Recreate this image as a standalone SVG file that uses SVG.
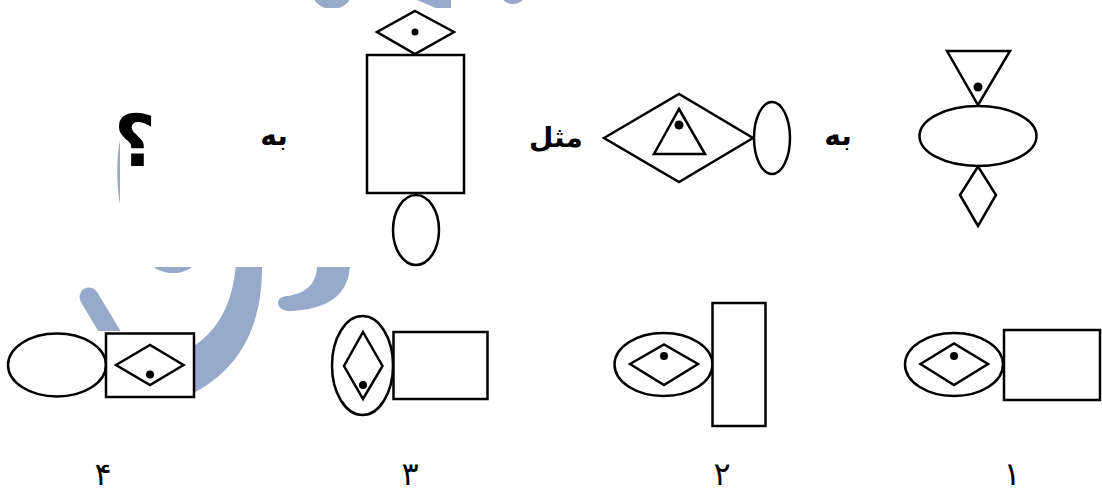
<svg xmlns="http://www.w3.org/2000/svg" width="1102" height="493" viewBox="0 0 1102 493">
<style>
.s{fill:#fff;stroke:#000;stroke-width:2.5;stroke-linejoin:miter}
.d{fill:#000}
.w{fill:#97aacb}
.bg{fill:#fff}
.t{font-family:"DejaVu Sans",sans-serif;font-weight:bold;font-size:28px;fill:#000}
.n{font-family:"DejaVu Sans",sans-serif;font-size:32px;fill:#000}
</style>
<g id="watermark">
<ellipse class="w" cx="332" cy="-8" rx="20" ry="17"/>
<path class="w" d="M417,0 L451,0 L451,9 L438,9 Z"/>
<ellipse class="w" cx="513" cy="-4" rx="11" ry="8"/>
<path class="w" d="M121,137 C116,152 116,190 121,208 Z"/>
<ellipse class="w" cx="173" cy="262" rx="21" ry="11"/>
<path class="w" d="M236,262 L262,262 C263,320 245,365 194,393 L170,395 L170,360 C200,345 232,325 236,262 Z"/>
<path d="M89,297 L122,352" stroke="#97aacb" stroke-width="19" stroke-linecap="round" fill="none"/>
<path class="w" d="M317,262 L350,262 C350,290 335,308 293,311 C284,312 278,308 278,303 C278,298 283,296 288,296 C305,293 318,285 317,262 Z"/>
<rect class="bg" x="120" y="8" width="920" height="259"/>
<rect class="bg" x="0" y="331" width="194" height="67"/>
</g>
<g id="q1">
<polygon class="s" points="947,51 1010,51 978,105"/>
<circle class="d" cx="978" cy="87" r="4.5"/>
<ellipse class="s" cx="978" cy="136" rx="58.5" ry="30"/>
<polygon class="s" points="978,166.5 996,195 978,226 960,195"/>
</g>
<g id="q2">
<polygon class="s" points="604,138 679,94 753,138 679,182"/>
<polygon class="s" points="679,109 705,154 654,154"/>
<circle class="d" cx="679" cy="125" r="4.5"/>
<ellipse class="s" cx="772" cy="138" rx="18" ry="36"/>
</g>
<g id="q3">
<polygon class="s" points="415,11 454,32 415,54 377,32"/>
<circle class="d" cx="415" cy="32" r="3.5"/>
<rect class="s" x="367" y="55" width="97" height="138"/>
<ellipse class="s" cx="416" cy="230" rx="23" ry="35"/>
</g>
<g id="labels">
<text class="t" x="135" y="166" text-anchor="middle" style="font-size:72px">؟</text>
<text class="t" x="274" y="145" text-anchor="middle">به</text>
<text class="t" x="556" y="147" text-anchor="middle">مثل</text>
<text class="t" x="838" y="145" text-anchor="middle">به</text>
</g>
<g id="opt1">
<ellipse class="s" cx="954" cy="364.5" rx="49" ry="31.5"/>
<polygon class="s" points="920.5,364 954,343.5 988,364 954,385"/>
<circle class="d" cx="954" cy="356" r="4"/>
<rect class="s" x="1004" y="330" width="96" height="70"/>
<text class="n" x="1012" y="485" text-anchor="middle">۱</text>
</g>
<g id="opt2">
<ellipse class="s" cx="663.5" cy="364.5" rx="49" ry="31.5"/>
<polygon class="s" points="630,364 664,344.5 698,364 664,385"/>
<circle class="d" cx="664" cy="356" r="4"/>
<rect class="s" x="712.5" y="303" width="53" height="123"/>
<text class="n" x="722" y="485" text-anchor="middle">۲</text>
</g>
<g id="opt3">
<ellipse class="s" cx="362.5" cy="365.5" rx="30.5" ry="49.5"/>
<polygon class="s" points="363,332 382.5,366 363,399 344,366"/>
<circle class="d" cx="363" cy="385" r="4"/>
<rect class="s" x="393.5" y="332" width="94" height="67"/>
<text class="n" x="410" y="485" text-anchor="middle">۳</text>
</g>
<g id="opt4">
<ellipse class="s" cx="57" cy="365" rx="49" ry="31.5"/>
<rect class="s" x="106" y="333.5" width="88" height="63.5"/>
<polygon class="s" points="116,365 150,345 183.5,365 150,385"/>
<circle class="d" cx="150" cy="374.5" r="4"/>
<text class="n" x="103" y="485" text-anchor="middle">۴</text>
</g>
</svg>
